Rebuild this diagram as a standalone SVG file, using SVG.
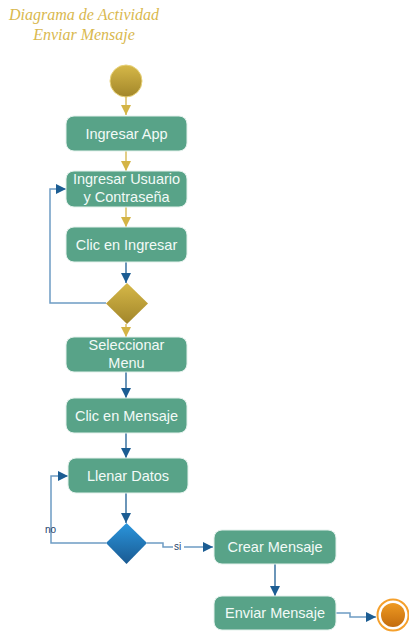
<svg xmlns="http://www.w3.org/2000/svg" width="409" height="633" viewBox="0 0 409 633">
<defs>
<linearGradient id="gold" x1="0" y1="0" x2="0" y2="1"><stop offset="0" stop-color="#D6B848"/><stop offset="1" stop-color="#A2862A"/></linearGradient>
<linearGradient id="blue" x1="0" y1="0" x2="0" y2="1"><stop offset="0" stop-color="#2A95DC"/><stop offset="1" stop-color="#1A5A92"/></linearGradient>
<linearGradient id="orange" x1="0" y1="0" x2="0" y2="1"><stop offset="0" stop-color="#EE9A22"/><stop offset="1" stop-color="#C46C0E"/></linearGradient>
<marker id="ag" viewBox="0 0 10 10" refX="10" refY="5" markerWidth="10" markerHeight="10" markerUnits="userSpaceOnUse" orient="auto"><path d="M0,0 L10,5 L0,10 Z" fill="#D4B446"/></marker>
<marker id="ab" viewBox="0 0 10 10" refX="10" refY="5" markerWidth="10" markerHeight="10" markerUnits="userSpaceOnUse" orient="auto"><path d="M0,0 L10,5 L0,10 Z" fill="#1C5D93"/></marker>
</defs>
<style>
.title{font-family:"Liberation Serif",serif;font-style:italic;font-size:16px;fill:#D9B84E;text-anchor:middle}
.node rect{fill:#58A388;stroke:#E4F1EC;stroke-width:1}
.node text{font-family:"Liberation Sans",Arial,sans-serif;font-size:14.5px;fill:#F2FAF7;text-anchor:middle}
.g{fill:none;stroke:#D4B446;stroke-width:1.3;marker-end:url(#ag)}
.b{fill:none;stroke:#1C5D93;stroke-width:1.3;marker-end:url(#ab)}
.bl{fill:none;stroke:#6E9CC4;stroke-width:1.5;marker-end:url(#ab)}
.lbl{font-family:"Liberation Sans",Arial,sans-serif;font-size:10px;fill:#1F3F6A}
</style>
<text class="title" x="84" y="20">Diagrama de Actividad</text>
<text class="title" x="84" y="40">Enviar Mensaje</text>

<g id="start"><circle cx="126" cy="81" r="16" fill="url(#gold)" stroke="#E8D27A" stroke-width="1"/></g>

<g id="connectors">
<path class="g" d="M126,97 V115"/>
<path class="g" d="M126,151 V171"/>
<path class="g" d="M126,207 V227"/>
<path class="b" d="M126,262 V283"/>
<path class="bl" d="M106,303 H50 V189 H66"/>
<path class="g" d="M126,324 V337"/>
<path class="b" d="M126,372 V398"/>
<path class="b" d="M126,433 V458"/>
<path class="b" d="M126,493 V523"/>
<path class="bl" d="M106,543 H51 V476 H68"/>
<path class="bl" d="M147,543 H163 V547 H213"/>
<path class="b" d="M275,564 V596"/>
<path class="bl" d="M336,613 H350 V617 H376"/>
<text class="lbl" x="45" y="533">no</text>
<rect x="173" y="540" width="11" height="12" fill="#fff"/>
<text class="lbl" x="174" y="550">si</text>
</g>

<g id="n1" class="node"><rect x="66" y="116" width="121" height="35" rx="8"/><text x="126.5" y="138.5">Ingresar App</text></g>
<g id="n2" class="node"><rect x="66" y="171" width="121" height="36" rx="8"/><text x="126.5" y="184">Ingresar Usuario</text><text x="126.5" y="202">y Contraseña</text></g>
<g id="n3" class="node"><rect x="66" y="227" width="121" height="35" rx="8"/><text x="126.5" y="249.5">Clic en Ingresar</text></g>
<g id="d1"><path d="M127,283 L148,303.5 L127,324 L106,303.5 Z" fill="url(#gold)"/></g>
<g id="n4" class="node"><rect x="66" y="337" width="121" height="35" rx="8"/><text x="126.5" y="350">Seleccionar</text><text x="126.5" y="368">Menu</text></g>
<g id="n5" class="node"><rect x="66" y="398" width="121" height="35" rx="8"/><text x="126.5" y="420.5">Clic en Mensaje</text></g>
<g id="n6" class="node"><rect x="68" y="458" width="120" height="35" rx="8"/><text x="128" y="480.5">Llenar Datos</text></g>
<g id="d2"><path d="M126.5,523 L147,543 L126.5,564 L106,543 Z" fill="url(#blue)"/></g>
<g id="n7" class="node"><rect x="214" y="530" width="122" height="34" rx="8"/><text x="275" y="552">Crear Mensaje</text></g>
<g id="n8" class="node"><rect x="214" y="596" width="122" height="34" rx="8"/><text x="275" y="618">Enviar Mensaje</text></g>
<g id="end"><circle cx="393" cy="615" r="15.5" fill="#fff" stroke="#F5A02C" stroke-width="2"/><circle cx="393" cy="615" r="12" fill="url(#orange)"/></g>
</svg>
